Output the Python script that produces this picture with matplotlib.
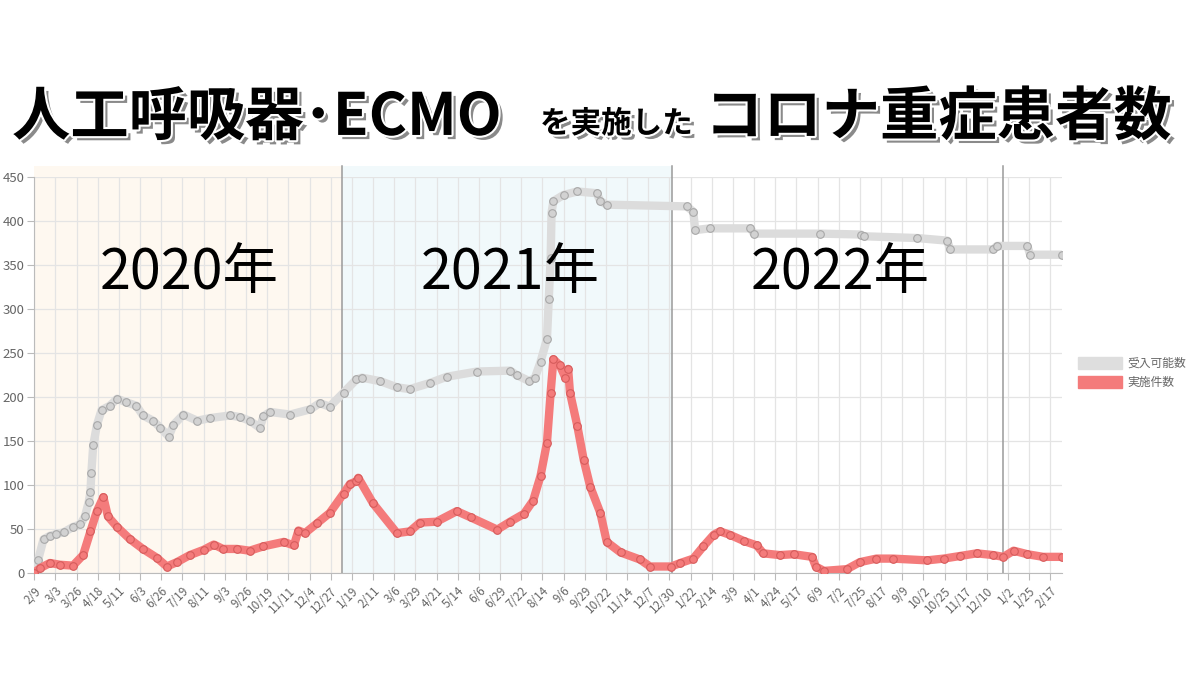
import numpy as np
import pandas as pd
import matplotlib
matplotlib.use("Agg")
import matplotlib.pyplot as plt
import matplotlib.patheffects as pe
from matplotlib.patches import Patch

plt.rcParams['font.family'] = ['Noto Sans CJK JP', 'DejaVu Sans']

# 受入可能数 (grey)
cap_dates = ['2020-02-09', '2020-02-13', '2020-02-19', '2020-02-26', '2020-03-04', '2020-03-12',
             '2020-03-22', '2020-03-30', '2020-04-04', '2020-04-08', '2020-04-10', '2020-04-11',
             '2020-04-13', '2020-04-17', '2020-04-22', '2020-05-01', '2020-05-09', '2020-05-19',
             '2020-05-30', '2020-06-06', '2020-06-17', '2020-06-25', '2020-07-04', '2020-07-09',
             '2020-07-20', '2020-08-04', '2020-08-18', '2020-09-09', '2020-09-20', '2020-09-30',
             '2020-10-11', '2020-10-15', '2020-10-22', '2020-11-13', '2020-12-05', '2020-12-15',
             '2020-12-26', '2021-01-10', '2021-01-24', '2021-01-30', '2021-02-19', '2021-03-09',
             '2021-03-23', '2021-04-14', '2021-05-02', '2021-06-04', '2021-07-10', '2021-07-17',
             '2021-07-31', '2021-08-06', '2021-08-12', '2021-08-19', '2021-08-21', '2021-08-23',
             '2021-08-24', '2021-08-26', '2021-09-06', '2021-09-21', '2021-10-12', '2021-10-16',
             '2021-10-23', '2022-01-18', '2022-01-25', '2022-01-27', '2022-02-12', '2022-03-28',
             '2022-04-01', '2022-06-12', '2022-07-26', '2022-07-29', '2022-09-25', '2022-10-28',
             '2022-10-31', '2022-12-17', '2022-12-21', '2023-01-23', '2023-01-26', '2023-03-02']
cap_vals = [0, 14, 38, 42, 44, 46,
            52, 55, 64, 80, 92, 114,
            145, 168, 185, 190, 198, 194,
            190, 179, 173, 165, 155, 168,
            180, 173, 176, 179, 177, 173,
            165, 178, 183, 180, 186, 193,
            189, 205, 220, 222, 218, 211,
            209, 216, 223, 229, 230, 225,
            218, 222, 240, 266, 312, 358,
            410, 423, 430, 434, 432, 423,
            419, 417, 411, 390, 392, 392,
            386, 386, 385, 383, 381, 378,
            368, 368, 372, 372, 362, 362]

# 実施件数 (red)
use_dates = ['2020-02-09', '2020-02-15', '2020-02-26', '2020-03-08', '2020-03-22', '2020-04-02',
             '2020-04-10', '2020-04-17', '2020-04-24', '2020-04-29', '2020-05-09', '2020-05-23',
             '2020-06-06', '2020-06-21', '2020-07-02', '2020-07-13', '2020-07-27', '2020-08-11',
             '2020-08-22', '2020-09-01', '2020-09-16', '2020-09-30', '2020-10-15', '2020-11-06',
             '2020-11-17', '2020-11-22', '2020-11-29', '2020-12-12', '2020-12-26', '2021-01-10',
             '2021-01-17', '2021-01-24', '2021-01-26', '2021-02-11', '2021-03-09', '2021-03-23',
             '2021-04-03', '2021-04-21', '2021-05-13', '2021-05-28', '2021-06-26', '2021-07-10',
             '2021-07-25', '2021-08-04', '2021-08-12', '2021-08-19', '2021-08-23', '2021-08-26',
             '2021-09-02', '2021-09-08', '2021-09-11', '2021-09-13', '2021-09-21', '2021-09-28',
             '2021-10-05', '2021-10-16', '2021-10-23', '2021-11-07', '2021-11-28', '2021-12-09',
             '2022-01-01', '2022-01-11', '2022-01-25', '2022-02-05', '2022-02-16', '2022-02-23',
             '2022-03-06', '2022-03-21', '2022-04-04', '2022-04-11', '2022-04-29', '2022-05-14',
             '2022-06-03', '2022-06-07', '2022-06-16', '2022-07-11', '2022-07-25', '2022-08-12',
             '2022-08-30', '2022-10-06', '2022-10-24', '2022-11-11', '2022-11-29', '2022-12-17',
             '2022-12-28', '2023-01-08', '2023-01-23', '2023-02-09', '2023-03-02']
use_vals = [0, 5, 11, 9, 8, 20,
            47, 70, 86, 64, 52, 38,
            27, 17, 7, 12, 20, 26,
            32, 27, 27, 25, 30, 35,
            31, 48, 45, 56, 68, 90,
            101, 104, 108, 79, 45, 47,
            57, 58, 70, 63, 49, 58,
            67, 82, 110, 148, 205, 243,
            236, 222, 232, 205, 167, 128,
            98, 68, 35, 23, 15, 7,
            7, 11, 16, 30, 43, 47,
            43, 36, 31, 22, 20, 21,
            18, 7, 2, 4, 12, 16,
            16, 14, 16, 19, 22, 20,
            18, 25, 21, 18, 18]

tick_labels = ['2/9', '3/3', '3/26', '4/18', '5/11', '6/3', '6/26', '7/19', '8/11', '9/3',
               '9/26', '10/19', '11/11', '12/4', '12/27', '1/19', '2/11', '3/6', '3/29', '4/21',
               '5/14', '6/6', '6/29', '7/22', '8/14', '9/6', '9/29', '10/22', '11/14', '12/7',
               '12/30', '1/22', '2/14', '3/9', '4/1', '4/24', '5/17', '6/9', '7/2', '7/25',
               '8/17', '9/9', '10/2', '10/25', '11/17', '12/10', '1/2', '1/25', '2/17']

year_labels = ['2020年', '2021年', '2022年']

cap_x = pd.to_datetime(cap_dates)
use_x = pd.to_datetime(use_dates)
tick_x = pd.date_range('2020-02-09', periods=len(tick_labels), freq='23D')

fig = plt.figure(figsize=(12, 6.85), dpi=100)
ax = fig.add_axes([0.0286, 0.164, 0.8567, 0.577])

x0 = pd.Timestamp('2020-02-09')
x1 = pd.Timestamp('2023-03-02')
b1 = pd.Timestamp('2021-01-08')
b2 = pd.Timestamp('2022-01-02')
b3 = pd.Timestamp('2022-12-28')

ax.axvspan(x0, b1, ymin=0, ymax=1.03, color='#fef8f0', zorder=0, clip_on=False, lw=0)
ax.axvspan(b1, b2, ymin=0, ymax=1.03, color='#f1f9fb', zorder=0, clip_on=False, lw=0)
for b in (b1, b2, b3):
    ax.axvline(b, ymin=0, ymax=1.03, color='#9a9a9a', lw=1.1, zorder=1, clip_on=False)

ax.plot(cap_x, cap_vals, color='#dcdcdc', lw=6, marker='o', ms=5.5,
        mfc='#d2d2d2', mec='#a8a8a8', mew=0.8, zorder=3, solid_joinstyle='round')
ax.plot(use_x, use_vals, color='#f47b7b', lw=6, marker='o', ms=5.5,
        mfc='#f47b7b', mec='#d65c5c', mew=0.8, zorder=4, solid_joinstyle='round')

ax.set_xlim(x0, x1)
ax.set_ylim(0, 450)
ax.set_yticks(np.arange(0, 451, 50))
ax.set_xticks(tick_x)
ax.set_xticklabels(tick_labels, rotation=45, ha='right', rotation_mode='anchor')
ax.tick_params(axis='both', colors='#bbbbbb', labelcolor='#666666', labelsize=8.5, length=5)
ax.tick_params(axis='y', labelsize=9.5, pad=2)
ax.grid(True, color='#e4e4e4', lw=0.9, zorder=1)
ax.set_axisbelow(True)
for s in ('top', 'right'):
    ax.spines[s].set_visible(False)
for s in ('left', 'bottom'):
    ax.spines[s].set_color('#bbbbbb')
ax.set_facecolor('none')

# year labels
for lab, xd in zip(year_labels, ['2020-07-26', '2021-07-10', '2022-07-04']):
    ax.text(pd.Timestamp(xd), 341, lab, fontsize=40, ha='center', va='center', color='black', zorder=6)

handles = [Patch(color='#dedede', label='受入可能数'), Patch(color='#f47b7b', label='実施件数')]
ax.legend(handles=handles, loc='center left', bbox_to_anchor=(1.005, 0.505), frameon=False,
          handlelength=3.7, handleheight=1.1, fontsize=8.5, labelcolor='#666666',
          handletextpad=0.5, labelspacing=0.5)

# title
fx = [pe.SimplePatchShadow(offset=(3, -3), shadow_rgbFace='#8a8a8a', alpha=1.0),
      pe.Stroke(linewidth=3, foreground='white'), pe.Normal()]
fig.text(0.010, 0.803, '人工呼吸器･ECMO', fontsize=42, fontweight='bold', color='black',
         va='baseline', ha='left', path_effects=fx)
fig.text(0.450, 0.806, 'を実施した', fontsize=22, fontweight='bold', color='black',
         va='baseline', ha='left', path_effects=fx)
fig.text(0.5875, 0.803, 'コロナ重症患者数', fontsize=42, fontweight='bold', color='black',
         va='baseline', ha='left', path_effects=fx)

fig.savefig('out.png', dpi=100)
